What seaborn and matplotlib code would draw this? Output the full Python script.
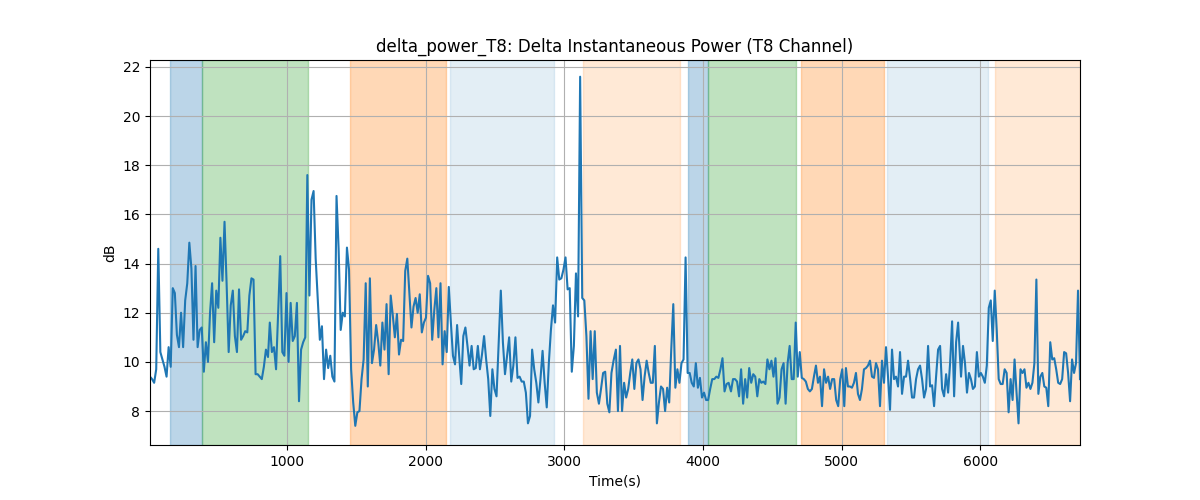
import numpy as np
import pandas as pd
import matplotlib
matplotlib.use("Agg")
import matplotlib.pyplot as plt
import seaborn as sns

seg1 = [9.4, 9.3, 9.15, 9.7, 14.6, 10.4, 10.1, 9.8, 9.4, 10.6, 9.8, 13.0, 12.8, 11.1, 10.6, 12.0,
        10.6, 12.5, 13.2, 14.85, 13.8, 10.9, 13.9, 10.6, 11.3, 11.4, 9.6, 10.8, 10.0, 12.0, 13.2,
        10.8, 12.9, 12.2, 15.05, 13.3, 15.7, 13.2, 10.4, 12.3, 12.9, 11.05, 10.4, 12.95, 10.9, 11.05,
        11.25, 11.2, 12.7, 13.4, 13.35, 9.5, 9.5, 9.4, 9.3, 9.8, 10.5, 10.2]
seg2 = [11.6, 10.4, 10.6, 9.7, 12.0, 14.3, 10.4, 10.25, 12.8, 10.0, 12.4, 10.85, 11.05, 12.4, 8.4,
        10.5, 10.8, 11.0, 17.6, 12.7, 16.6, 16.95, 14.2, 12.55, 10.9, 11.45, 9.3, 10.5, 9.75, 10.25,
        9.4, 9.2, 16.75, 14.6, 11.3, 12.0, 11.85, 14.65, 13.75, 9.7, 8.35, 7.4, 7.95, 8.0, 9.3, 10.1,
        13.2, 9.0, 13.4, 9.95, 10.5, 11.5, 10.8, 9.85, 11.6, 10.5]
seg3 = [12.35, 9.5, 12.7, 11.9, 11.0, 11.95, 10.3, 10.9, 10.85, 13.7, 14.2, 12.8, 11.4, 12.25, 12.6,
        12.0, 12.75, 11.2, 11.6, 11.8, 13.5, 13.2, 10.9, 12.1, 13.0, 11.0, 13.2, 9.9, 11.25, 10.4,
        13.05, 11.6, 10.25, 9.9, 11.5, 10.25, 9.1, 11.05, 11.4, 10.65, 9.85, 10.65, 9.7, 9.75, 10.65,
        9.7, 10.3, 11.05, 10.1, 9.3, 7.8, 9.7, 8.9, 8.6]
seg4 = [12.9, 10.8, 9.5, 10.25, 11.0, 9.2, 9.85, 11.0, 9.35, 9.4, 9.2, 9.2, 8.75, 7.5, 7.8, 10.5,
        9.7, 9.15, 8.35, 9.3, 10.45, 9.15, 8.15, 9.95, 11.3, 12.3, 11.6, 14.25, 13.35, 13.4, 13.75,
        14.25, 12.95, 13.0, 9.6, 10.65, 13.6, 11.85, 21.6, 12.6, 12.5, 11.05, 8.5, 11.25, 9.3, 11.25,
        8.75, 8.3, 8.9, 9.55, 9.6, 8.3, 7.95, 9.55, 10.05]
seg5 = [10.5, 8.0, 10.65, 8.0, 9.15, 8.55, 8.9, 9.55, 10.1, 8.9, 9.95, 10.1, 9.7, 8.45, 9.4, 10.05,
        9.55, 9.15, 9.15, 10.65, 7.5, 8.35, 9.0, 8.9, 8.0, 8.95, 8.35, 10.5, 12.35, 8.95, 9.7, 9.15,
        9.95, 10.1, 14.25, 9.55, 9.55, 9.15, 9.0, 9.95, 8.95, 9.35, 8.55, 8.75, 8.45, 8.45, 8.9, 9.3,
        9.3, 9.4, 9.35, 9.7, 10.15, 8.8, 9.1, 9.15]
seg6 = [8.8, 9.3, 9.3, 9.2, 8.6, 9.7, 8.3, 9.3, 8.55, 9.75, 9.15, 9.5, 9.4, 8.6, 9.3, 9.15, 9.2,
        9.1, 10.1, 9.7, 10.05, 9.4, 10.15, 8.3, 8.55, 9.7, 9.95, 8.3, 9.95, 10.65, 9.3, 9.3, 11.6,
        9.4, 10.4, 9.35, 9.3, 9.2, 8.9, 8.8, 8.9, 9.4, 9.85, 9.15, 9.4, 8.2, 9.7, 9.15, 9.4, 8.9,
        9.3, 9.3, 8.45, 8.2, 9.3, 9.7, 8.2]
seg7 = [9.75, 9.0, 9.0, 8.95, 9.15, 9.55, 8.7, 8.45, 8.9, 9.7, 9.75, 9.85, 10.05, 9.4, 9.35, 9.95,
        9.7, 8.2, 10.05, 9.15, 10.6, 9.4, 8.05, 10.5, 9.3, 9.4, 9.0, 10.4, 8.7, 9.4, 9.4, 10.05, 9.35,
        8.55, 8.55, 9.3, 9.7, 9.85, 9.3, 8.55, 8.9, 10.65, 9.0, 9.05, 8.2, 9.4, 10.5, 10.65, 8.9, 8.6,
        9.5, 8.75, 9.95, 11.65, 8.6, 10.8, 11.6]
seg8 = [9.4, 10.65, 9.95, 8.75, 9.55, 9.3, 8.9, 9.0, 10.4, 9.4, 9.55, 9.4, 9.15, 9.85, 12.2, 12.5,
        10.85, 12.9, 11.3, 9.3, 9.1, 9.1, 9.7, 9.55, 7.95, 9.3, 8.45, 10.1, 8.75, 7.5, 9.7, 9.55,
        9.7, 8.95, 9.15, 8.9, 9.15, 9.95, 13.35, 8.7, 9.4, 9.55, 9.0, 8.95, 8.2, 10.8, 10.1, 10.15,
        9.7, 9.15, 9.1, 9.3, 10.4, 10.35, 9.55, 8.4, 10.1, 9.55, 9.95, 12.9, 9.3]

segments = [seg1, seg2, seg3, seg4, seg5, seg6, seg7, seg8]
# first / last time (s) of each chunk
seg_start = [12, 876, 1718, 2542, 3372, 4202, 5031, 5861]
seg_end = [863, 1703, 2511, 3355, 4185, 5019, 5840, 6719]

# shaded phases
phase_start = [154, 390, 1455, 2179, 3134, 3892, 4034, 4709, 5325, 6107]
phase_end = [390, 1148, 2150, 2925, 3834, 4034, 4669, 5306, 6054, 6719]
phase_kind = ["A", "B", "C", "D", "E", "A", "B", "C", "D", "E"]

kind_style = {
    "A": ("tab:blue", 0.3),
    "B": ("tab:green", 0.3),
    "C": ("tab:orange", 0.3),
    "D": ("tab:blue", 0.12),
    "E": ("tab:orange", 0.17),
}

frames = []
for vals, t0, t1 in zip(segments, seg_start, seg_end):
    frames.append(pd.DataFrame({"time": np.linspace(t0, t1, len(vals)), "db": vals}))
df = pd.concat(frames, ignore_index=True)

fig, ax = plt.subplots(figsize=(12, 5))

for s, e, k in zip(phase_start, phase_end, phase_kind):
    c, a = kind_style[k]
    ax.axvspan(s, e, color=c, alpha=a)

sns.lineplot(data=df, x="time", y="db", ax=ax, color="tab:blue", linewidth=1.5)

ax.set_xlim(df["time"].min(), df["time"].max())
ax.set_ylim(6.62, 22.28)
ax.grid(True)
ax.set_title("delta_power_T8: Delta Instantaneous Power (T8 Channel)")
ax.set_xlabel("Time(s)")
ax.set_ylabel("dB")

fig.savefig("out.png", dpi=100)
